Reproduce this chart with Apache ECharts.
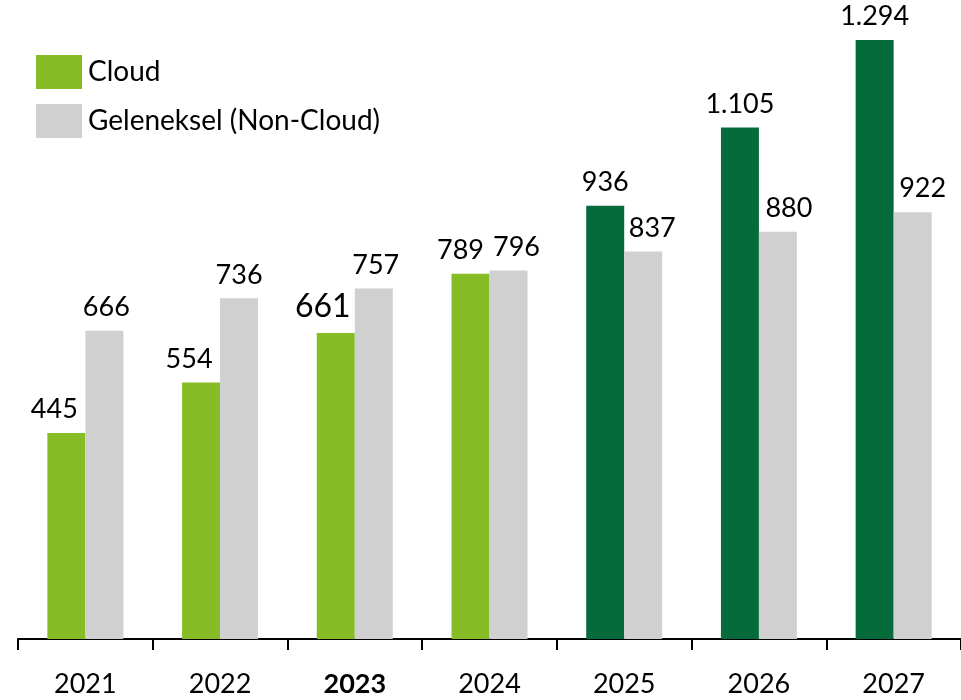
<!DOCTYPE html>
<html>
<head>
<meta charset="utf-8">
<style>
  html, body { margin: 0; padding: 0; background: #fff; }
  #chart { width: 961px; height: 700px; }
</style>
<script src="https://cdn.jsdelivr.net/npm/echarts@6/dist/echarts.min.js"></script>
</head>
<body>
<div id="chart"></div>
<script>
const years = ['2021', '2022', '2023', '2024', '2025', '2026', '2027']
const cloud = [445, 554, 661, 789, 936, 1105, 1294]
const nonCloud = [666, 736, 757, 796, 837, 880, 922]
const firstForecast = 4 // 2025 onwards drawn darker
// value labels were nudged sideways by hand in the source chart
const cloudLabelShift = [-12, -12, -13, -10, 0, 0, 0]
const nonCloudLabelShift = [2, 0, 2, 8, 9, 11, 10]

const FONT = 'Lato, "Open Sans", sans-serif'
const fmt = v => String(v).replace(/\B(?=(\d{3})+(?!\d))/g, '.')

const chart = echarts.init(document.getElementById('chart'))

const barLabel = {
  show: true,
  position: 'top',
  distance: 10,
  fontSize: 27,
  color: '#000',
  fontFamily: FONT,
  formatter: p => fmt(p.value)
}

chart.setOption({
  animation: false,
  textStyle: { fontFamily: FONT },
  legend: {
    orient: 'vertical',
    left: 31,
    top: 50,
    itemWidth: 46,
    itemHeight: 34,
    itemGap: 15,
    icon: 'rect',
    textStyle: { fontSize: 28, color: '#000', fontFamily: FONT, padding: [0, 0, 0, 1] },
    data: ['Cloud', 'Geleneksel (Non-Cloud)']
  },
  grid: { left: 18, right: -2, top: 40, bottom: 61 },
  xAxis: {
    type: 'category',
    data: years,
    axisLine: { show: true, lineStyle: { color: '#000', width: 2 } },
    axisTick: { show: true, alignWithLabel: false, length: 11, lineStyle: { color: '#000', width: 2 } },
    axisLabel: {
      margin: 32,
      fontSize: 27,
      color: '#000',
      fontFamily: FONT,
      formatter: v => v === '2023' ? '{b|' + v + '}' : v,
      rich: { b: { fontWeight: 'bold', fontSize: 27, color: '#000', fontFamily: FONT } }
    }
  },
  yAxis: {
    type: 'value',
    min: 0,
    max: 1294,
    show: false,
    splitLine: { show: false }
  },
  series: [
    {
      name: 'Cloud',
      type: 'bar',
      barWidth: 38,
      barGap: '0%',
      itemStyle: { color: '#86bc25' },
      data: cloud.map((v, i) => ({
        value: v,
        itemStyle: { color: i >= firstForecast ? '#066b3a' : '#86bc25' },
        label: Object.assign({ offset: [cloudLabelShift[i], 0] }, i === 2 ? { fontSize: 32 } : {})
      })),
      label: barLabel
    },
    {
      name: 'Geleneksel (Non-Cloud)',
      type: 'bar',
      barWidth: 38,
      itemStyle: { color: '#d0d0d0' },
      data: nonCloud.map((v, i) => ({
        value: v,
        label: { offset: [nonCloudLabelShift[i], 0] }
      })),
      label: barLabel
    }
  ]
})
</script>
</body>
</html>
